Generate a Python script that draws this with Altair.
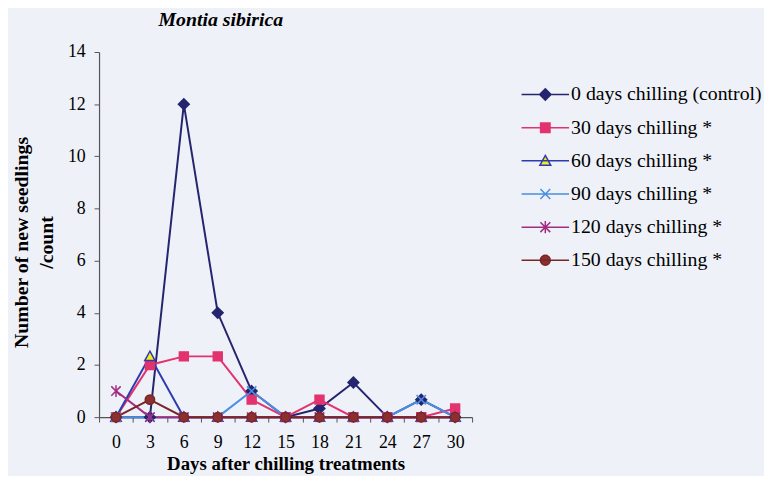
import altair as alt
import pandas as pd

days = [0, 3, 6, 9, 12, 15, 18, 21, 24, 27, 30]
series_names = [
    "0 days chilling (control)",
    "30 days chilling *",
    "60 days chilling *",
    "90 days chilling *",
    "120 days chilling *",
    "150 days chilling *",
]
control = [0, 0, 12, 4, 1, 0, 0.33, 1.33, 0, 0.67, 0]
d30 = [0, 2, 2.33, 2.33, 0.67, 0, 0.67, 0, 0, 0, 0.33]
d60 = [0, 2.33, 0, 0, 0, 0, 0, 0, 0, 0, 0]
d90 = [0, 0, 0, 0, 1, 0, 0, 0, 0, 0.67, 0]
d120 = [1, 0, 0, 0, 0, 0, 0, 0, 0, 0, 0]
d150 = [0, 0.67, 0, 0, 0, 0, 0, 0, 0, 0, 0]
all_values = [control, d30, d60, d90, d120, d150]

stroke_colors = ["#25246e", "#e2336f", "#2c3cb0", "#4a8fe0", "#a22c82", "#7a2626"]
fill_colors = ["#25246e", "#e2336f", "#f2ee1e", "transparent", "transparent", "#8a3030"]

diamond = "M0,-1.15L1.15,0L0,1.15L-1.15,0Z"
square = "M-0.95,-0.95L0.95,-0.95L0.95,0.95L-0.95,0.95Z"
triangle = "M0,-1.1L1.1,0.9L-1.1,0.9Z"
xmark = "M-1,-1L1,1M1,-1L-1,1"
asterisk = "M-1,-1L1,1M1,-1L-1,1M0,-1.25L0,1.25"
circle = "M1,0A1,1,0,1,1,-1,0A1,1,0,1,1,1,0Z"
plot_shapes = [diamond, square, triangle, xmark, asterisk, circle]
legend_line = "M-4.8,0L4.8,0"
legend_shapes = [legend_line + s for s in plot_shapes]

rows = []
for name, vals in zip(series_names, all_values):
    for d, v in zip(days, vals):
        rows.append({"day": d, "count": v, "series": name})
df = pd.DataFrame(rows)

FONT = "Liberation Serif"

tick_vals = [-1.5 + 1.5 * i for i in range(23)]

x_enc = alt.X(
    "day:Q",
    scale=alt.Scale(domain=[-1.5, 31.5], nice=False, zero=False),
    axis=alt.Axis(
        values=tick_vals,
        labelExpr="datum.value % 3 == 0 ? datum.label : ''",
        tickOpacity={"condition": {"test": "datum.value % 3 == 0", "value": 0}, "value": 1},
        title="Days after chilling treatments",
        titleFont=FONT, titleFontSize=19, titlePadding=3,
        labelFont=FONT, labelFontSize=18, labelPadding=12,
        labelOverlap=False,
    ),
)
y_enc = alt.Y(
    "count:Q",
    scale=alt.Scale(domain=[0, 14], nice=False),
    axis=alt.Axis(
        values=[0, 2, 4, 6, 8, 10, 12, 14],
        title=["Number of new seedlings", "/count"],
        titleFont=FONT, titleFontSize=20, titleLineHeight=25, titlePadding=11, titleY=192,
        labelFont=FONT, labelFontSize=18, labelPadding=9,
    ),
)

stroke_scale = alt.Scale(domain=series_names, range=stroke_colors)

base = alt.Chart(df).encode(x=x_enc, y=y_enc)

lines = base.mark_line(strokeWidth=2).encode(
    stroke=alt.Stroke("series:N", scale=stroke_scale, legend=None),
)

points = base.mark_point(opacity=1, fillOpacity=1, strokeWidth=1.5, size=90).encode(
    stroke=alt.Stroke("series:N", scale=stroke_scale, legend=None),
    fill=alt.Fill("series:N", scale=alt.Scale(domain=series_names, range=fill_colors), legend=None),
    shape=alt.Shape("series:N", scale=alt.Scale(domain=series_names, range=plot_shapes), legend=None),
)

leg = dict(
    title=None, orient="none", legendX=441, legendY=33,
    labelLimit=400, symbolSize=100, symbolStrokeWidth=1.5,
    labelFont=FONT, labelFontSize=20,
    labelOffset=16, rowPadding=13.5, padding=0,
)
legend_layer = alt.Chart(df).mark_point(opacity=1, fillOpacity=1, strokeWidth=1.5).encode(
    stroke=alt.Stroke("series:N", scale=stroke_scale, legend=alt.Legend(**leg)),
    fill=alt.Fill("series:N", scale=alt.Scale(domain=series_names, range=fill_colors), legend=alt.Legend(**leg)),
    shape=alt.Shape("series:N", scale=alt.Scale(domain=series_names, range=legend_shapes), legend=alt.Legend(**leg)),
).transform_filter("false")

chart = alt.layer(lines, points, legend_layer).resolve_scale(
    stroke="independent", fill="independent", shape="independent"
).properties(
    width=377,
    height=369,
    title=alt.Title("Montia sibirica", font=FONT, fontSize=20, fontWeight="bold",
                    fontStyle="italic", color="black", anchor="start", dx=60, offset=13,
                    frame="group"),
    autosize=alt.AutoSizeParams(type="none"),
    padding={"left": 92, "top": 42, "right": 295, "bottom": 57},
    background="#eef1f8",
).configure(
    style={"guide-label": {"font": FONT}, "guide-title": {"font": FONT}, "group-title": {"font": FONT}},
).configure_view(
    stroke=None
).configure_axis(
    labelFont=FONT, labelColor="black",
    titleFont=FONT, titleFontWeight="bold", titleColor="black",
    tickSize=5, tickColor="#555555", domainColor="#555555", domainWidth=1.2,
    grid=False, labelFlush=False,
).configure_legend(
    labelFont=FONT, labelColor="black",
).configure_title(
    font=FONT,
)

chart.save("out.html", embed_options={"renderer": "svg", "actions": False})
